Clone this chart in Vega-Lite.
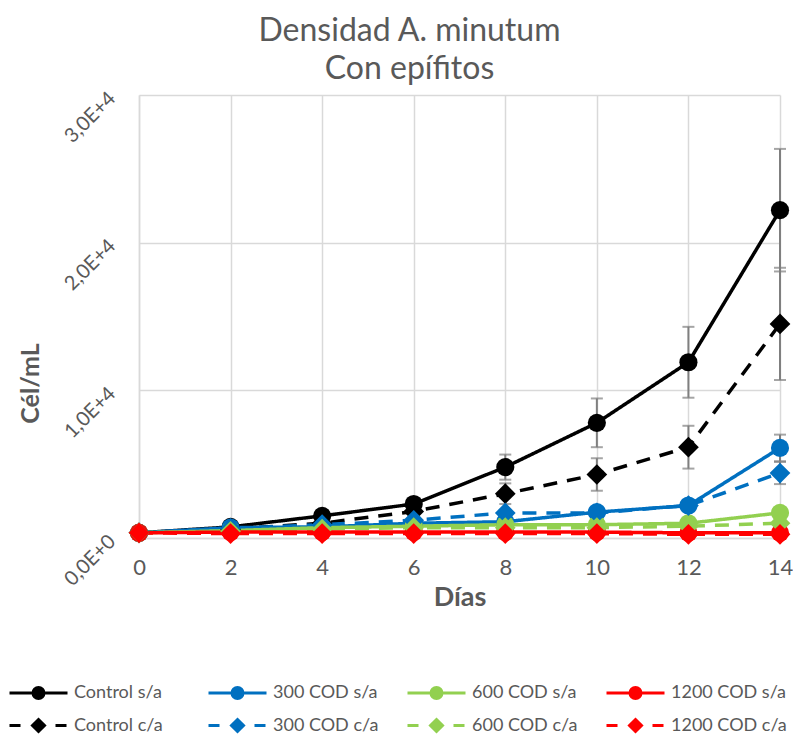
{
  "$schema": "https://vega.github.io/schema/vega-lite/v6.json",
  "autosize": "none",
  "padding": {"left": 139, "top": 95, "right": 13, "bottom": 204},
  "width": 641,
  "height": 443,
  "background": "white",
  "title": {
    "text": ["Densidad A. minutum", "Con epífitos"],
    "font": "Lato",
    "fontSize": 32,
    "fontWeight": "normal",
    "color": "#595959",
    "lineHeight": 38,
    "anchor": "middle",
    "dx": -50,
    "offset": 2
  },
  "config": {
    "view": {"stroke": null},
    "font": "Lato",
    "legend": {
      "orient": "none",
      "legendX": -112,
      "legendY": 586,
      "columns": 4,
      "direction": "horizontal",
      "gridAlign": "all",
      "columnPadding": 12,
      "rowPadding": 8,
      "padding": 0,
      "symbolSize": 400,
      "symbolStrokeWidth": 3,
      "symbolOpacity": 1,
      "labelFont": "Lato",
      "labelFontSize": 18,
      "labelColor": "#595959",
      "labelOffset": 24,
      "labelLimit": 300
    }
  },
  "data": {
    "values": [
      {"series": "Control s/a", "type": "s/a", "day": 0, "value": 350, "err": 0},
      {"series": "Control s/a", "type": "s/a", "day": 2, "value": 750, "err": 0},
      {"series": "Control s/a", "type": "s/a", "day": 4, "value": 1500, "err": 0},
      {"series": "Control s/a", "type": "s/a", "day": 6, "value": 2300, "err": 200},
      {"series": "Control s/a", "type": "s/a", "day": 8, "value": 4800, "err": 850},
      {"series": "Control s/a", "type": "s/a", "day": 10, "value": 7800, "err": 1650},
      {"series": "Control s/a", "type": "s/a", "day": 12, "value": 11900, "err": 2400},
      {"series": "Control s/a", "type": "s/a", "day": 14, "value": 22200, "err": 4150},
      {"series": "Control c/a", "type": "c/a", "day": 0, "value": 350, "err": 0},
      {"series": "Control c/a", "type": "c/a", "day": 2, "value": 600, "err": 0},
      {"series": "Control c/a", "type": "c/a", "day": 4, "value": 1000, "err": 0},
      {"series": "Control c/a", "type": "c/a", "day": 6, "value": 1800, "err": 0},
      {"series": "Control c/a", "type": "c/a", "day": 8, "value": 3000, "err": 700},
      {"series": "Control c/a", "type": "c/a", "day": 10, "value": 4300, "err": 1100},
      {"series": "Control c/a", "type": "c/a", "day": 12, "value": 6150, "err": 1450},
      {"series": "Control c/a", "type": "c/a", "day": 14, "value": 14500, "err": 3800},
      {"series": "300 COD s/a", "type": "s/a", "day": 0, "value": 350, "err": 0},
      {"series": "300 COD s/a", "type": "s/a", "day": 2, "value": 700, "err": 0},
      {"series": "300 COD s/a", "type": "s/a", "day": 4, "value": 750, "err": 0},
      {"series": "300 COD s/a", "type": "s/a", "day": 6, "value": 1000, "err": 0},
      {"series": "300 COD s/a", "type": "s/a", "day": 8, "value": 1100, "err": 0},
      {"series": "300 COD s/a", "type": "s/a", "day": 10, "value": 1750, "err": 0},
      {"series": "300 COD s/a", "type": "s/a", "day": 12, "value": 2200, "err": 0},
      {"series": "300 COD s/a", "type": "s/a", "day": 14, "value": 6100, "err": 900},
      {"series": "300 COD c/a", "type": "c/a", "day": 0, "value": 350, "err": 0},
      {"series": "300 COD c/a", "type": "c/a", "day": 2, "value": 650, "err": 0},
      {"series": "300 COD c/a", "type": "c/a", "day": 4, "value": 900, "err": 0},
      {"series": "300 COD c/a", "type": "c/a", "day": 6, "value": 1200, "err": 0},
      {"series": "300 COD c/a", "type": "c/a", "day": 8, "value": 1700, "err": 0},
      {"series": "300 COD c/a", "type": "c/a", "day": 10, "value": 1700, "err": 0},
      {"series": "300 COD c/a", "type": "c/a", "day": 12, "value": 2200, "err": 0},
      {"series": "300 COD c/a", "type": "c/a", "day": 14, "value": 4400, "err": 750},
      {"series": "600 COD s/a", "type": "s/a", "day": 0, "value": 350, "err": 0},
      {"series": "600 COD s/a", "type": "s/a", "day": 2, "value": 500, "err": 0},
      {"series": "600 COD s/a", "type": "s/a", "day": 4, "value": 700, "err": 0},
      {"series": "600 COD s/a", "type": "s/a", "day": 6, "value": 800, "err": 0},
      {"series": "600 COD s/a", "type": "s/a", "day": 8, "value": 900, "err": 0},
      {"series": "600 COD s/a", "type": "s/a", "day": 10, "value": 900, "err": 0},
      {"series": "600 COD s/a", "type": "s/a", "day": 12, "value": 1000, "err": 0},
      {"series": "600 COD s/a", "type": "s/a", "day": 14, "value": 1700, "err": 0},
      {"series": "600 COD c/a", "type": "c/a", "day": 0, "value": 350, "err": 0},
      {"series": "600 COD c/a", "type": "c/a", "day": 2, "value": 450, "err": 0},
      {"series": "600 COD c/a", "type": "c/a", "day": 4, "value": 600, "err": 0},
      {"series": "600 COD c/a", "type": "c/a", "day": 6, "value": 700, "err": 0},
      {"series": "600 COD c/a", "type": "c/a", "day": 8, "value": 700, "err": 0},
      {"series": "600 COD c/a", "type": "c/a", "day": 10, "value": 700, "err": 0},
      {"series": "600 COD c/a", "type": "c/a", "day": 12, "value": 800, "err": 0},
      {"series": "600 COD c/a", "type": "c/a", "day": 14, "value": 1000, "err": 0},
      {"series": "1200 COD s/a", "type": "s/a", "day": 0, "value": 350, "err": 0},
      {"series": "1200 COD s/a", "type": "s/a", "day": 2, "value": 400, "err": 0},
      {"series": "1200 COD s/a", "type": "s/a", "day": 4, "value": 400, "err": 0},
      {"series": "1200 COD s/a", "type": "s/a", "day": 6, "value": 400, "err": 0},
      {"series": "1200 COD s/a", "type": "s/a", "day": 8, "value": 400, "err": 0},
      {"series": "1200 COD s/a", "type": "s/a", "day": 10, "value": 400, "err": 0},
      {"series": "1200 COD s/a", "type": "s/a", "day": 12, "value": 350, "err": 0},
      {"series": "1200 COD s/a", "type": "s/a", "day": 14, "value": 350, "err": 0},
      {"series": "1200 COD c/a", "type": "c/a", "day": 0, "value": 350, "err": 0},
      {"series": "1200 COD c/a", "type": "c/a", "day": 2, "value": 300, "err": 0},
      {"series": "1200 COD c/a", "type": "c/a", "day": 4, "value": 300, "err": 0},
      {"series": "1200 COD c/a", "type": "c/a", "day": 6, "value": 300, "err": 0},
      {"series": "1200 COD c/a", "type": "c/a", "day": 8, "value": 300, "err": 0},
      {"series": "1200 COD c/a", "type": "c/a", "day": 10, "value": 300, "err": 0},
      {"series": "1200 COD c/a", "type": "c/a", "day": 12, "value": 250, "err": 0},
      {"series": "1200 COD c/a", "type": "c/a", "day": 14, "value": 250, "err": 0}
    ]
  },
  "encoding": {
    "x": {
      "field": "day",
      "type": "quantitative",
      "scale": {"domain": [0, 14], "nice": false, "zero": false},
      "axis": {
        "title": "Días",
        "values": [0, 2, 4, 6, 8, 10, 12, 14],
        "grid": true,
        "gridColor": "#d9d9d9",
        "gridWidth": 1.5,
        "domainColor": "#d9d9d9",
        "domainWidth": 1.5,
        "ticks": false,
        "labelFont": "Lato",
        "labelFontSize": 22,
        "labelColor": "#595959",
        "labelPadding": 19,
        "labelFlush": false,
        "titleFont": "Lato",
        "titleFontSize": 27,
        "titleFontWeight": "bold",
        "titleColor": "#595959",
        "titlePadding": 6
      }
    },
    "y": {
      "field": "value",
      "type": "quantitative",
      "scale": {"domain": [0, 30000], "nice": false},
      "axis": {
        "title": "Cél/mL",
        "values": [0, 10000, 20000, 30000],
        "labelExpr": "datum.value == 0 ? '0,0E+0' : (datum.value == 10000 ? '1,0E+4' : (datum.value == 20000 ? '2,0E+4' : '3,0E+4'))",
        "grid": true,
        "gridColor": "#d9d9d9",
        "gridWidth": 1.5,
        "domainColor": "#d9d9d9",
        "domainWidth": 1.5,
        "ticks": false,
        "labelFont": "Lato",
        "labelFontSize": 20,
        "labelColor": "#595959",
        "labelAngle": -45,
        "labelAlign": "right",
        "labelBaseline": "middle",
        "labelPadding": 27,
        "labelFlush": false,
        "titleFont": "Lato",
        "titleFontSize": 25,
        "titleFontWeight": "bold",
        "titleColor": "#595959",
        "titleAngle": -90,
        "titleAlign": "center",
        "titleBaseline": "middle",
        "titleX": -109,
        "titleY": 288
      }
    }
  },
  "layer": [
    {
      "transform": [{"filter": "datum.err > 0"}],
      "mark": {"type": "errorbar", "color": "#7f7f7f", "thickness": 2, "ticks": {"size": 12, "color": "#7f7f7f", "thickness": 2}},
      "encoding": {
        "yError": {"field": "err"},
        "detail": {"field": "series"}
      }
    },
    {
      "mark": {"type": "line", "strokeWidth": 3.5},
      "encoding": {
        "color": {
          "field": "series",
          "type": "nominal",
          "scale": {
            "domain": ["Control s/a", "Control c/a", "300 COD s/a", "300 COD c/a", "600 COD s/a", "600 COD c/a", "1200 COD s/a", "1200 COD c/a"],
            "range": ["#000000", "#000000", "#0070C0", "#0070C0", "#92D050", "#92D050", "#FF0000", "#FF0000"]
          },
          "legend": null
        },
        "strokeDash": {
          "field": "type",
          "type": "nominal",
          "scale": {"domain": ["s/a", "c/a"], "range": [[1, 0], [14, 10]]},
          "legend": null
        }
      }
    },
    {
      "transform": [{"filter": "datum.type == 's/a'"}],
      "mark": {"type": "point", "filled": true, "opacity": 1, "shape": "circle", "size": 330},
      "encoding": {
        "color": {
          "field": "series",
          "type": "nominal",
          "scale": {
            "domain": ["Control s/a", "Control c/a", "300 COD s/a", "300 COD c/a", "600 COD s/a", "600 COD c/a", "1200 COD s/a", "1200 COD c/a"],
            "range": ["#000000", "#000000", "#0070C0", "#0070C0", "#92D050", "#92D050", "#FF0000", "#FF0000"]
          },
          "legend": null
        }
      }
    },
    {
      "transform": [{"filter": "datum.type == 'c/a'"}],
      "mark": {"type": "point", "filled": true, "opacity": 1, "shape": "diamond", "size": 430},
      "encoding": {
        "color": {
          "field": "series",
          "type": "nominal",
          "scale": {
            "domain": ["Control s/a", "Control c/a", "300 COD s/a", "300 COD c/a", "600 COD s/a", "600 COD c/a", "1200 COD s/a", "1200 COD c/a"],
            "range": ["#000000", "#000000", "#0070C0", "#0070C0", "#92D050", "#92D050", "#FF0000", "#FF0000"]
          },
          "legend": null
        }
      }
    },
    {
      "transform": [{"filter": "false"}],
      "mark": {"type": "point", "filled": true, "opacity": 1},
      "encoding": {
        "fill": {
          "field": "series",
          "type": "nominal",
          "scale": {
            "domain": ["Control s/a", "300 COD s/a", "600 COD s/a", "1200 COD s/a", "Control c/a", "300 COD c/a", "600 COD c/a", "1200 COD c/a"],
            "range": ["#000000", "#0070C0", "#92D050", "#FF0000", "#000000", "#0070C0", "#92D050", "#FF0000"]
          },
          "legend": {"title": null}
        },
        "stroke": {
          "field": "series",
          "type": "nominal",
          "scale": {
            "domain": ["Control s/a", "300 COD s/a", "600 COD s/a", "1200 COD s/a", "Control c/a", "300 COD c/a", "600 COD c/a", "1200 COD c/a"],
            "range": ["#000000", "#0070C0", "#92D050", "#FF0000", "#000000", "#0070C0", "#92D050", "#FF0000"]
          },
          "legend": {"title": null}
        },
        "shape": {
          "field": "series",
          "type": "nominal",
          "scale": {
            "domain": ["Control s/a", "300 COD s/a", "600 COD s/a", "1200 COD s/a", "Control c/a", "300 COD c/a", "600 COD c/a", "1200 COD c/a"],
            "range": [
              "M-2.9,0H2.9M-0.55,0A0.55,0.55 0 1,0 0.55,0A0.55,0.55 0 1,0 -0.55,0Z",
              "M-2.9,0H2.9M-0.55,0A0.55,0.55 0 1,0 0.55,0A0.55,0.55 0 1,0 -0.55,0Z",
              "M-2.9,0H2.9M-0.55,0A0.55,0.55 0 1,0 0.55,0A0.55,0.55 0 1,0 -0.55,0Z",
              "M-2.9,0H2.9M-0.55,0A0.55,0.55 0 1,0 0.55,0A0.55,0.55 0 1,0 -0.55,0Z",
              "M-2.9,0H-1.8M1.7,0H2.8M0,-0.6L0.6,0L0,0.6L-0.6,0Z",
              "M-2.9,0H-1.8M1.7,0H2.8M0,-0.6L0.6,0L0,0.6L-0.6,0Z",
              "M-2.9,0H-1.8M1.7,0H2.8M0,-0.6L0.6,0L0,0.6L-0.6,0Z",
              "M-2.9,0H-1.8M1.7,0H2.8M0,-0.6L0.6,0L0,0.6L-0.6,0Z"
            ]
          },
          "legend": {"title": null}
        }
      }
    }
  ]
}
